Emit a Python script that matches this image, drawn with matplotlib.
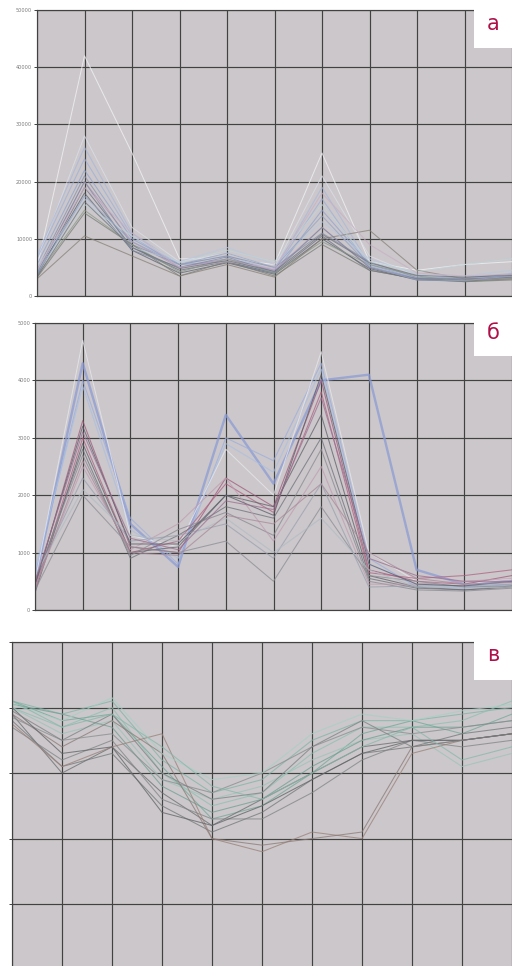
import numpy as np
import matplotlib.pyplot as plt
from matplotlib.patches import Rectangle

# x positions of the measurement points (same for all three panels)
x = np.arange(11)

# panel "а" series
a_vals = [
    [5000, 42000, 25000, 6500, 6500, 5500, 25000, 6000, 4500, 5500, 6000],
    [6000, 28000, 12000, 6000, 7500, 5000, 21000, 7000, 3500, 3000, 3500],
    [7000, 26000, 11000, 5500, 7000, 4500, 19000, 5500, 3500, 3000, 4000],
    [6500, 24000, 10500, 5000, 6500, 4500, 17000, 5000, 3200, 3000, 3500],
    [5500, 22000, 10000, 5500, 6000, 4000, 15000, 5500, 3000, 2800, 3600],
    [4000, 20000, 9500, 5000, 6500, 4500, 12000, 5000, 3000, 2700, 3200],
    [4500, 21000, 9000, 5500, 7000, 5000, 11000, 6000, 3200, 3000, 3400],
    [3500, 19000, 8500, 4500, 6000, 4000, 10500, 4500, 3000, 2800, 3300],
    [3800, 18000, 8000, 4000, 5800, 3800, 10000, 4800, 2800, 2600, 3000],
    [3500, 15000, 9000, 4200, 6500, 4000, 9500, 5500, 3500, 2500, 3000],
    [3200, 14500, 9000, 3500, 6000, 3500, 9000, 4500, 3000, 2500, 2800],
    [3000, 10500, 7000, 3500, 5500, 3300, 10000, 11500, 4500, 3000, 3200],
    [5000, 17000, 8500, 6000, 8500, 5500, 13000, 6500, 3800, 3500, 4500],
    [4200, 16000, 10500, 5800, 8000, 6000, 16000, 6000, 4200, 5500, 6500],
    [4000, 20000, 8000, 5000, 6800, 4200, 12000, 5000, 3000, 3200, 3800],
    [3800, 17500, 9500, 5500, 7500, 5000, 14000, 5200, 2800, 2700, 3500],
    [4500, 19000, 11000, 5000, 6000, 4800, 18000, 9000, 4000, 3500, 3800],
    [3300, 16500, 8500, 4800, 6200, 4300, 10800, 5800, 3600, 3300, 3600],
]
a_colors = ['#f2f2f4', '#dcdfe8', '#a8b8dc', '#9eb0d8', '#8fa3cf', '#b896b8',
            '#8890a8', '#6c7080', '#5f6470', '#8a9a88', '#7a7e78', '#888078',
            '#b8c8e0', '#c0d4d8', '#7c88a0', '#94a4c4', '#c8b0c4', '#70747c']

# panel "б" series
b_vals = [
    [500, 4300, 1500, 750, 3400, 2200, 4000, 4100, 700, 450, 500],
    [600, 4000, 1600, 800, 3000, 2600, 4300, 900, 400, 380, 450],
    [700, 3900, 1400, 900, 2900, 2400, 4200, 800, 450, 400, 500],
    [500, 4700, 1300, 1100, 2800, 2000, 4500, 1000, 500, 450, 550],
    [400, 3300, 1100, 1000, 2300, 1800, 4000, 700, 500, 450, 600],
    [350, 3000, 1000, 1200, 2200, 1700, 3800, 650, 550, 600, 700],
    [300, 2900, 1000, 1100, 2000, 1800, 3400, 600, 400, 350, 400],
    [450, 2800, 900, 1300, 1800, 1600, 3000, 550, 380, 350, 420],
    [500, 2700, 950, 1400, 1700, 1300, 2800, 500, 350, 330, 380],
    [400, 2500, 1050, 1500, 2300, 1200, 2500, 450, 450, 500, 550],
    [550, 2300, 1200, 1300, 1500, 900, 2200, 400, 420, 420, 450],
    [350, 2000, 1100, 1000, 1200, 500, 1800, 600, 500, 400, 420],
    [600, 2100, 1300, 1200, 1600, 1000, 1600, 700, 400, 380, 400],
    [450, 3200, 1150, 1150, 2000, 1650, 4100, 800, 450, 420, 500],
    [500, 3100, 1250, 1050, 1900, 1750, 3700, 900, 600, 500, 500],
    [380, 2600, 1000, 950, 1650, 1500, 2200, 1000, 550, 450, 480],
]
b_colors = ['#8b9bd4', '#9aaee0', '#a8c0e4', '#e8e8ee', '#a05878', '#b06080',
            '#606068', '#70707a', '#8a8890', '#c09cb0', '#9aa0b0', '#8c8c94',
            '#b0bcc4', '#5c5c68', '#9a6e90', '#a88898']

# panel "в" series
c_vals = [
    [4.10, 3.90, 4.10, 3.20, 2.70, 2.90, 3.50, 3.80, 3.80, 3.90, 4.00],
    [4.00, 3.70, 4.00, 3.00, 2.50, 2.70, 3.30, 3.70, 3.70, 3.80, 4.10],
    [4.10, 3.80, 3.90, 3.10, 2.30, 2.50, 3.00, 3.60, 3.80, 3.60, 3.90],
    [4.00, 3.60, 3.80, 2.90, 2.60, 2.80, 3.20, 3.50, 3.60, 3.10, 3.30],
    [4.05, 3.90, 3.70, 2.80, 2.40, 2.60, 3.10, 3.50, 3.70, 3.70, 3.80],
    [3.90, 3.00, 3.40, 2.70, 2.20, 2.60, 3.00, 3.40, 3.50, 3.50, 3.60],
    [3.80, 3.10, 3.30, 2.50, 2.10, 2.40, 2.90, 3.30, 3.40, 3.60, 3.70],
    [3.70, 3.20, 3.50, 2.60, 2.30, 2.30, 2.70, 3.20, 3.50, 3.40, 3.50],
    [3.75, 3.10, 3.40, 3.60, 2.00, 1.80, 2.10, 2.00, 3.30, 3.50, 3.60],
    [3.90, 3.40, 3.80, 3.30, 2.00, 1.90, 2.00, 2.10, 3.40, 3.50, 3.60],
    [3.85, 3.50, 3.60, 2.90, 2.70, 3.00, 3.40, 3.70, 3.60, 3.70, 3.80],
    [4.00, 3.30, 3.40, 2.40, 2.20, 2.50, 2.90, 3.30, 3.50, 3.50, 3.60],
    [4.05, 3.80, 4.15, 3.30, 2.90, 3.00, 3.60, 3.90, 3.80, 3.95, 4.05],
    [3.95, 3.50, 3.90, 3.00, 2.60, 2.70, 3.40, 3.80, 3.40, 3.50, 3.60],
    [4.10, 3.70, 3.90, 3.40, 2.80, 2.60, 3.00, 3.40, 3.70, 3.20, 3.40],
]
c_colors = ['#7fb5a5', '#8cc0b0', '#72a898', '#9ac4b8', '#6e9f92', '#6a6d70',
            '#74777a', '#808386', '#9a8078', '#8a7a76', '#888c8e', '#5f6265',
            '#a6d0c4', '#7c8082', '#86b8aa']

a_ticks = [0, 10000, 20000, 30000, 40000, 50000]
b_ticks = [0, 1000, 2000, 3000, 4000, 5000]

W, H = 512, 966
bg = '#cbc7ca'
grid_c = '#424242'

fig = plt.figure(figsize=(W / 100, H / 100), dpi=100)
fig.patch.set_facecolor('white')


def px_axes(left, top, right, bottom):
    return fig.add_axes([left / W, 1 - bottom / H, (right - left) / W, (bottom - top) / H])


def style(ax, yt, labels):
    ax.set_facecolor(bg)
    ax.set_xticks(x)
    ax.set_yticks(yt)
    ax.grid(True, color=grid_c, lw=0.85)
    ax.set_axisbelow(True)
    ax.tick_params(axis='x', length=0, labelbottom=False)
    ax.tick_params(axis='y', length=2.5, width=0.7, color=grid_c, pad=1,
                   labelsize=3.6, labelcolor='#7a7a7a')
    if not labels:
        ax.tick_params(axis='y', labelleft=False)
    ax.spines['right'].set_visible(False)
    for s in ['left', 'top', 'bottom']:
        ax.spines[s].set_color(grid_c)
        ax.spines[s].set_linewidth(0.85)


# panel а
ax1 = px_axes(37, 10, 512, 296)
for v, c in zip(a_vals, a_colors):
    ax1.plot(x, v, color=c, lw=0.75, alpha=0.75)
ax1.set_xlim(0, 9.73)
ax1.set_ylim(0, 50000)
style(ax1, a_ticks, True)

# panel б
ax2 = px_axes(35, 323, 512, 610)
for i, (v, c) in enumerate(zip(b_vals, b_colors)):
    ax2.plot(x, v, color=c, lw=1.7 if i == 0 else 0.75, alpha=0.75)
ax2.set_xlim(0, 9.75)
ax2.set_ylim(0, 5000)
style(ax2, b_ticks, True)

# panel в
ax3 = px_axes(12, 642, 512, 966)
for v, c in zip(c_vals, c_colors):
    ax3.plot(x, v, color=c, lw=0.75, alpha=0.75)
ax3.set_xlim(0, 9.74)
ax3.set_ylim(0.056, 5)
style(ax3, [1, 2, 3, 4, 5], False)
ax3.spines['bottom'].set_visible(False)

# white label boxes in the upper right corners
for top, bottom, lab in [(0, 48, 'а'), (310, 356, 'б'), (630, 680, 'в')]:
    fig.add_artist(Rectangle((474 / W, 1 - bottom / H), 38 / W, (bottom - top) / H,
                             transform=fig.transFigure, facecolor='white',
                             edgecolor='none', zorder=5))
    fig.text(493 / W, 1 - (top + bottom) / 2 / H, lab, color='#b0104a',
             fontsize=15, ha='center', va='center', zorder=6)

fig.savefig('out.png', dpi=100, facecolor='white')
